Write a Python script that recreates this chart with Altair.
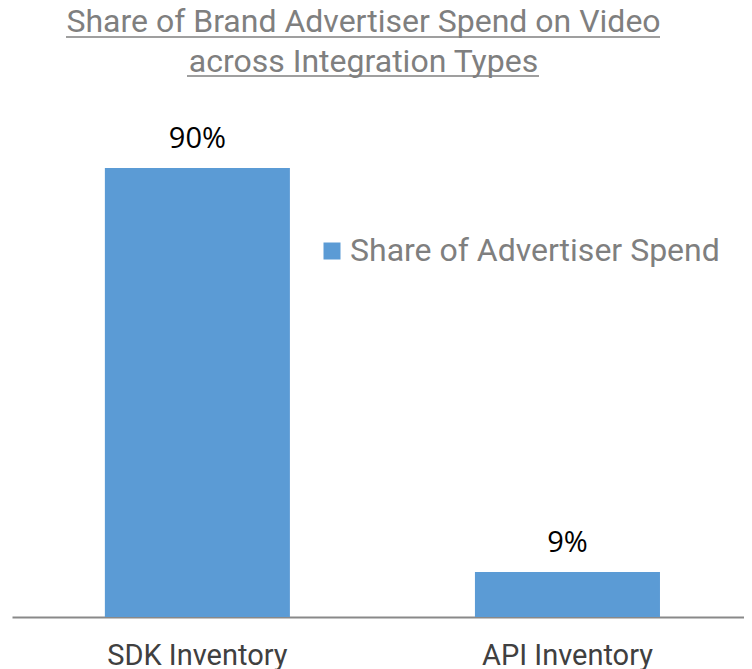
import altair as alt
import pandas as pd

categories = ["SDK Inventory", "API Inventory"]
values = [90, 9]
labels = ["90%", "9%"]
series = ["Share of Advertiser Spend", "Share of Advertiser Spend"]
title_lines = ["Share of Brand Advertiser Spend on Video", "across Integration Types"]

df = pd.DataFrame({"category": categories, "value": values, "label": labels, "series": series})

TITLE_GRAY = "#7f7f7f"

base = alt.Chart(df).encode(
    x=alt.X(
        "category:N",
        sort=categories,
        scale=alt.Scale(paddingInner=0.5, paddingOuter=0.239, align=0.525),
        axis=alt.Axis(
            title=None, labelAngle=0, ticks=False, domainColor="#898989", domainWidth=2,
            labelFont="Roboto", labelFontSize=29, labelColor="#404040", labelPadding=24,
            labelLimit=400,
        ),
    ),
    y=alt.Y("value:Q", scale=alt.Scale(domain=[0, 100]), axis=None),
)

bars = base.mark_bar().encode(
    color=alt.Color(
        "series:N",
        scale=alt.Scale(range=["#5B9BD5"]),
        legend=alt.Legend(
            title=None, orient="none", legendX=304, legendY=117,
            symbolType="square", symbolSize=289, symbolStrokeWidth=0,
            labelFont="Roboto", labelFontSize=32, labelColor=TITLE_GRAY, labelOffset=2,
            labelLimit=0,
        ),
    )
)

text = base.mark_text(
    font="Open Sans", fontSize=29, color="black", dy=-20, baseline="alphabetic"
).encode(text="label:N")

deco = pd.DataFrame({"k": [0]})
title1 = alt.Chart(deco).mark_text(
    text=title_lines[0], font="Roboto", fontSize=32, color=TITLE_GRAY,
    align="center", baseline="alphabetic",
).encode(x=alt.value(351.5), y=alt.value(-86))
title2 = alt.Chart(deco).mark_text(
    text=title_lines[1], font="Roboto", fontSize=32, color=TITLE_GRAY,
    align="center", baseline="alphabetic",
).encode(x=alt.value(351.5), y=alt.value(-46))
ul1 = alt.Chart(deco).mark_rule(color=TITLE_GRAY, strokeWidth=1.5).encode(
    x=alt.value(54), x2=alt.value(648), y=alt.value(-81)
)
ul2 = alt.Chart(deco).mark_rule(color=TITLE_GRAY, strokeWidth=1.5).encode(
    x=alt.value(175), x2=alt.value(527), y=alt.value(-42)
)

chart = alt.layer(bars, text, title1, title2, ul1, ul2).properties(
    width=732,
    height=499,
    autosize=alt.AutoSizeParams(type="none"),
    padding={"left": 4, "top": 110, "right": 0, "bottom": 56},
).configure_view(stroke=None)

chart.save("out.html", embed_options={"renderer": "svg", "actions": False})
